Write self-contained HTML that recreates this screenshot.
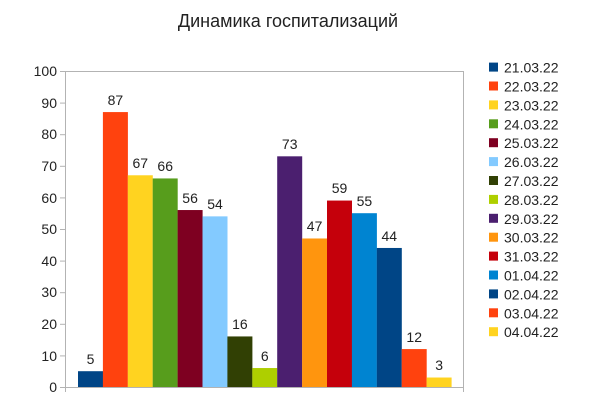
<!DOCTYPE html>
<html><head><meta charset="utf-8"><style>body{margin:0;background:#fff}</style></head><body>
<svg width="600" height="400" xmlns="http://www.w3.org/2000/svg" font-family="Liberation Sans, sans-serif">
<text x="288" y="27" font-size="18" text-anchor="middle" fill="#222">Динамика госпитализаций</text>
<g stroke="#b3b3b3" stroke-width="1">
<line x1="65" y1="71.5" x2="463" y2="71.5"/>
<line x1="463.5" y1="71" x2="463.5" y2="392"/>
<line x1="65" y1="387.5" x2="463" y2="387.5"/>
<line x1="65.5" y1="71" x2="65.5" y2="392"/>
<line x1="60" y1="71.5" x2="65" y2="71.5"/><line x1="60" y1="103.1" x2="65" y2="103.1"/><line x1="60" y1="134.7" x2="65" y2="134.7"/><line x1="60" y1="166.3" x2="65" y2="166.3"/><line x1="60" y1="197.9" x2="65" y2="197.9"/><line x1="60" y1="229.5" x2="65" y2="229.5"/><line x1="60" y1="261.1" x2="65" y2="261.1"/><line x1="60" y1="292.7" x2="65" y2="292.7"/><line x1="60" y1="324.3" x2="65" y2="324.3"/><line x1="60" y1="355.9" x2="65" y2="355.9"/><line x1="60" y1="387.5" x2="65" y2="387.5"/>
</g>
<g font-size="14" text-anchor="end" fill="#222">
<text x="57" y="76">100</text><text x="57" y="108">90</text><text x="57" y="139">80</text><text x="57" y="171">70</text><text x="57" y="203">60</text><text x="57" y="234">50</text><text x="57" y="266">40</text><text x="57" y="297">30</text><text x="57" y="329">20</text><text x="57" y="361">10</text><text x="57" y="392">0</text>
</g>
<g>
<rect x="78" y="371.2" width="25" height="15.8" fill="#004586"/>
<rect x="102.9" y="112.08" width="25" height="274.92" fill="#ff420e"/>
<rect x="127.8" y="175.28" width="25" height="211.72" fill="#ffd320"/>
<rect x="152.7" y="178.44" width="25" height="208.56" fill="#579d1c"/>
<rect x="177.6" y="210.04" width="25" height="176.96" fill="#7e0021"/>
<rect x="202.5" y="216.36" width="25" height="170.64" fill="#83caff"/>
<rect x="227.4" y="336.44" width="25" height="50.56" fill="#314004"/>
<rect x="252.3" y="368.04" width="25" height="18.96" fill="#aecf00"/>
<rect x="277.2" y="156.32" width="25" height="230.68" fill="#4b1f6f"/>
<rect x="302.1" y="238.48" width="25" height="148.52" fill="#ff950e"/>
<rect x="327" y="200.56" width="25" height="186.44" fill="#c5000b"/>
<rect x="351.9" y="213.2" width="25" height="173.8" fill="#0084d1"/>
<rect x="376.8" y="247.96" width="25" height="139.04" fill="#004586"/>
<rect x="401.7" y="349.08" width="25" height="37.92" fill="#ff420e"/>
<rect x="426.6" y="377.52" width="25" height="9.48" fill="#ffd320"/>
</g>
<g font-size="14" text-anchor="middle" fill="#222">
<text x="90.5" y="364">5</text>
<text x="115.4" y="105">87</text>
<text x="140.3" y="168">67</text>
<text x="165.2" y="171">66</text>
<text x="190.1" y="203">56</text>
<text x="215" y="209">54</text>
<text x="239.9" y="329">16</text>
<text x="264.8" y="361">6</text>
<text x="289.7" y="149">73</text>
<text x="314.6" y="231">47</text>
<text x="339.5" y="193">59</text>
<text x="364.4" y="206">55</text>
<text x="389.3" y="241">44</text>
<text x="414.2" y="342">12</text>
<text x="439.1" y="370">3</text>
</g>
<g font-size="14" fill="#222">
<rect x="489" y="62.6" width="9" height="9" fill="#004586"/><text x="504" y="72.6">21.03.22</text>
<rect x="489" y="81.5" width="9" height="9" fill="#ff420e"/><text x="504" y="91.5">22.03.22</text>
<rect x="489" y="100.4" width="9" height="9" fill="#ffd320"/><text x="504" y="110.4">23.03.22</text>
<rect x="489" y="119.3" width="9" height="9" fill="#579d1c"/><text x="504" y="129.3">24.03.22</text>
<rect x="489" y="138.2" width="9" height="9" fill="#7e0021"/><text x="504" y="148.2">25.03.22</text>
<rect x="489" y="157.1" width="9" height="9" fill="#83caff"/><text x="504" y="167.1">26.03.22</text>
<rect x="489" y="176" width="9" height="9" fill="#314004"/><text x="504" y="186">27.03.22</text>
<rect x="489" y="194.9" width="9" height="9" fill="#aecf00"/><text x="504" y="204.9">28.03.22</text>
<rect x="489" y="213.8" width="9" height="9" fill="#4b1f6f"/><text x="504" y="223.8">29.03.22</text>
<rect x="489" y="232.7" width="9" height="9" fill="#ff950e"/><text x="504" y="242.7">30.03.22</text>
<rect x="489" y="251.6" width="9" height="9" fill="#c5000b"/><text x="504" y="261.6">31.03.22</text>
<rect x="489" y="270.5" width="9" height="9" fill="#0084d1"/><text x="504" y="280.5">01.04.22</text>
<rect x="489" y="289.4" width="9" height="9" fill="#004586"/><text x="504" y="299.4">02.04.22</text>
<rect x="489" y="308.3" width="9" height="9" fill="#ff420e"/><text x="504" y="318.3">03.04.22</text>
<rect x="489" y="327.2" width="9" height="9" fill="#ffd320"/><text x="504" y="337.2">04.04.22</text>
</g>
</svg>
</body></html>
